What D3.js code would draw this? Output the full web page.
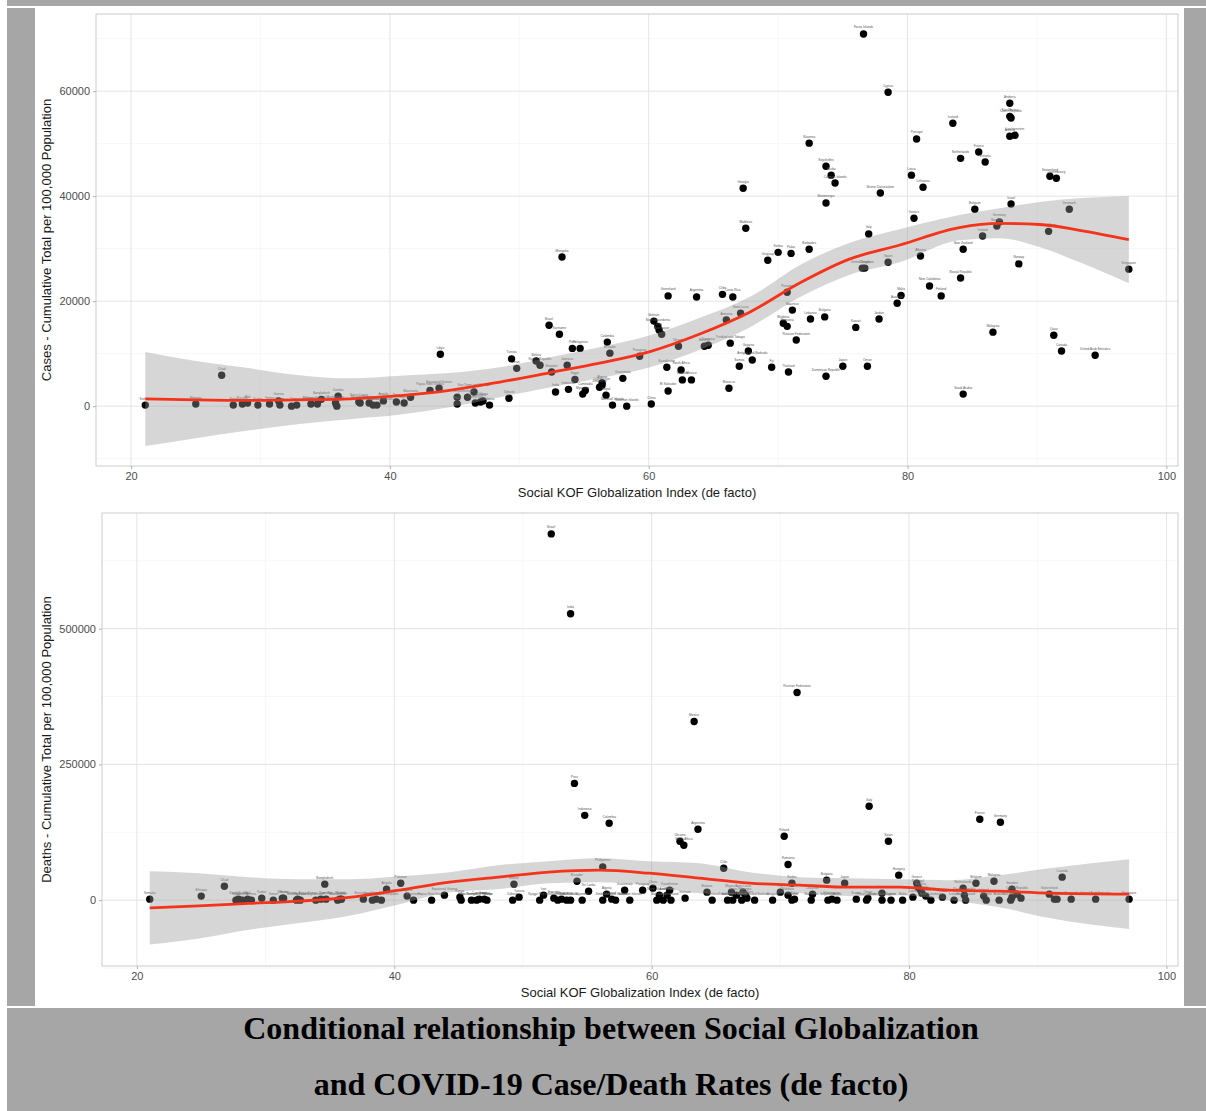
<!DOCTYPE html>
<html>
<head>
<meta charset="utf-8">
<script src="https://cdn.jsdelivr.net/npm/d3@7"></script>
<style>
  body { margin: 0; background: #fff; }
  svg { display: block; }
</style>
</head>
<body>
<svg width="1206" height="1111"></svg>
<script>
// [country, social KOF globalization index, cumulative cases per 100k]
var casePoints = [
  ["Somalia",21.1,200],["Ethiopia",25.0,400],["Chad",27.0,5900],["Niger",27.9,200],["Burundi",28.6,400],
  ["Mali",29.0,600],["Sudan",29.8,200],["Yemen",30.7,400],["Guinea",31.4,1000],["Benin",31.5,200],
  ["Burkina Faso",32.4,0],["Tanzania",32.8,200],["Afghanistan",33.9,400],["Congo, Dem. Rep.",34.4,400],
  ["Bangladesh",34.7,1300],["Madagascar",35.8,600],["Zambia",36.0,1900],["Malawi",35.9,0],
  ["Sierra Leone",37.6,800],["Mozambique",37.7,600],["Pakistan",38.4,600],["Uganda",38.7,200],
  ["Central African Republic",39.0,200],["Angola",39.5,1000],["Togo",40.5,800],["Nigeria",41.1,600],
  ["Mauritania",41.6,1700],["Papua New Guinea",43.1,3000],["Equatorial Guinea",43.8,3400],["Libya",43.9,9900],
  ["Kenya",45.2,1700],["Haiti",45.2,400],["Senegal",46.0,1700],["Sao Tome and Principe",46.5,2700],
  ["Cameroon",46.6,600],["Gambia",47.0,800],["Ghana",47.2,1000],["Liberia",47.7,200],["Djibouti",49.2,1500],
  ["Tunisia",49.4,9000],["Iran",49.8,7200],["Bolivia",51.3,8600],["Kyrgyz Republic",51.6,7800],
  ["Brazil",52.3,15400],["Eswatini",52.5,6500],["India",52.8,2700],["Suriname",53.1,13700],
  ["Mongolia",53.3,28400],["Jamaica",53.7,7800],["Indonesia",53.8,3200],["Peru",54.1,11000],
  ["Egypt",54.3,5100],["Philippines",54.7,11000],["Myanmar",54.9,2300],["Cambodia",55.1,3000],
  ["Zimbabwe",56.2,3600],["Uzbekistan",56.4,4000],["Algeria",56.4,4400],["Nepal",56.7,2100],
  ["Colombia",56.8,12200],["Ecuador",57.0,10100],["Marshall Islands",57.2,200],["Guatemala",58.0,5300],
  ["Solomon Islands",58.3,0],["Paraguay",59.3,9500],["China",60.2,400],["Bahrain",60.4,16200],
  ["North Macedonia",60.7,15200],["Iraq",60.8,14500],["Azerbaijan",61.0,13700],["Kazakhstan",61.4,7400],
  ["Greenland",61.5,21000],["El Salvador",61.5,2900],["Ukraine",62.3,11400],["South Africa",62.5,6900],
  ["Vietnam",62.6,5000],["Mexico",63.3,5000],["Argentina",63.7,20800],["Belarus",64.3,11400],
  ["Dominica",64.6,11600],["Chile",65.7,21300],["Armenia",66.0,16400],["Morocco",66.2,3400],
  ["Trinidad and Tobago",66.3,12000],["Costa Rica",66.5,20800],["Samoa",67.0,7600],["Saint Lucia",67.1,17700],
  ["Georgia",67.3,41500],["Maldives",67.5,33900],["Guyana",67.7,10500],["Antigua and Barbuda",68.0,8800],
  ["Uruguay",69.2,27800],["Fiji",69.5,7400],["Serbia",70.0,29300],["Moldova",70.4,15800],
  ["Romania",70.7,15200],["Panama",70.7,21700],["Thailand",70.8,6500],["Palau",71.0,29100],
  ["Mauritius",71.1,18300],["Russian Federation",71.4,12600],["Barbados",72.4,29900],["Slovenia",72.4,50100],
  ["Lebanon",72.5,16600],["Bulgaria",73.6,17000],["Seychelles",73.7,45700],["Montenegro",73.7,38700],
  ["Dominican Republic",73.7,5700],["Aruba",74.1,44000],["Cayman Islands",74.4,42500],["Japan",75.0,7600],
  ["Kuwait",76.0,15000],["United Kingdom",76.5,26300],["Croatia",76.7,26300],["Faroe Islands",76.6,70900],
  ["Oman",76.9,7600],["Italy",77.0,32800],["Jordan",77.8,16600],["Brunei Darussalam",77.9,40600],
  ["Spain",78.5,27400],["Cyprus",78.5,59800],["Australia",79.2,19600],["Malta",79.5,21100],
  ["Latvia",80.3,44000],["Greece",80.5,35800],["Portugal",80.7,50900],["Albania",81.0,28600],
  ["Lithuania",81.2,41700],["New Caledonia",81.7,22900],["Finland",82.6,21000],["Iceland",83.5,53900],
  ["Netherlands",84.1,47200],["Slovak Republic",84.1,24400],["New Zealand",84.3,29900],["Saudi Arabia",84.3,2300],
  ["Belgium",85.2,37500],["France",85.5,48400],["Ireland",85.8,32400],["Estonia",86.0,46500],
  ["Malaysia",86.6,14100],["Sweden",86.9,34300],["Germany",87.1,35100],["Andorra",87.9,57700],
  ["San Marino",87.9,55200],["Czech Republic",88.0,54900],["Austria",87.9,51400],["Liechtenstein",88.3,51600],
  ["Israel",88.0,38500],["Norway",88.6,27100],["Hong Kong",90.9,33300],["Switzerland",91.0,43800],
  ["Qatar",91.3,13500],["Luxembourg",91.5,43400],["Canada",91.9,10500],["Denmark",92.5,37500],
  ["United Arab Emirates",94.5,9700],["Singapore",97.1,26100]
];

// [country, social KOF globalization index, cumulative deaths]
var deathPoints = [
  ["Brazil",52.2,674500],["India",53.7,527500],["Russian Federation",71.3,382300],["Mexico",63.3,329000],
  ["Peru",54.0,215000],["Indonesia",54.8,156200],["Colombia",56.7,141500],["Argentina",63.6,130500],
  ["Ukraine",62.2,108400],["South Africa",62.5,101100],["Poland",70.3,117600],["Italy",76.9,172800],
  ["Spain",78.4,108400],["France",85.5,148900],["Germany",87.1,143400],["Romania",70.6,65600],
  ["Chile",65.6,58800],["Philippines",56.2,61200],["Hungary",79.2,46000],
  ["Somalia",21.0,1800],["Ethiopia",25.0,7400],["Chad",26.8,25700],["Niger",27.7,0],["South Sudan",27.9,1800],
  ["Burundi",28.2,0],["Mali",28.6,1800],["Eritrea",28.9,0],["Sudan",29.7,3700],["Yemen",30.6,0],
  ["Guinea",31.3,3700],["Benin",31.4,3700],["Burkina Faso",32.4,0],["Guinea-Bissau",32.5,1800],
  ["Tanzania",32.7,0],["Afghanistan",33.9,0],["Congo, Dem. Rep.",34.3,1800],["Bangladesh",34.6,29400],
  ["Lesotho",34.7,1800],["Madagascar",35.6,0],["Malawi",35.8,1800],["Zambia",35.9,1800],
  ["Sierra Leone",37.6,1800],["Mozambique",38.3,0],["Uganda",38.6,1800],["Central African Republic",39.0,0],
  ["Angola",39.4,20200],["Pakistan",40.5,31200],["Nigeria",41.0,7400],["Mauritania",41.5,0],
  ["Papua New Guinea",42.9,0],["Equatorial Guinea",43.9,9200],["Kenya",45.1,5500],["Haiti",45.2,0],
  ["Senegal",46.0,0],["Sao Tome and Principe",46.4,0],["Cameroon",46.6,1800],["Gambia",47.0,1800],
  ["Ghana",47.2,0],["Djibouti",49.2,0],["Bolivia",49.3,29400],["Tunisia",49.7,5500],
  ["Kyrgyz Republic",51.3,0],["Iran",51.6,9200],["Eswatini",52.4,3700],["Suriname",52.7,0],
  ["Jamaica",53.0,1800],["Lao PDR",53.4,0],["Cambodia",53.7,0],["Ecuador",54.2,34900],["Myanmar",54.6,0],
  ["Sri Lanka",55.1,16500],["Zimbabwe",56.2,0],["Algeria",56.5,11000],["Nepal",56.9,1800],
  ["Marshall Islands",57.2,0],["Guatemala",57.9,18400],["Solomon Islands",58.3,0],["Paraguay",59.3,18400],
  ["China",60.1,22100],["Bahrain",60.4,0],["North Macedonia",60.6,9200],["Iraq",60.9,0],
  ["Azerbaijan",61.2,9200],["Kazakhstan",61.4,18400],["Greenland",61.5,0],["Vietnam",62.6,3700],
  ["Belarus",64.3,14700],["Dominica",64.7,0],["Armenia",65.9,0],["Morocco",66.2,14700],
  ["Trinidad and Tobago",66.3,0],["Costa Rica",66.6,9200],["Samoa",67.0,0],["Saint Lucia",67.1,14700],
  ["Georgia",67.3,9200],["Maldives",67.4,3700],["Antigua and Barbuda",68.0,0],["Uruguay",69.4,0],
  ["Fiji",70.0,14700],["Moldova",70.6,9200],["Serbia",70.9,31200],["Panama",70.9,0],["Palau",71.1,1800],
  ["Barbados",72.4,0],["Lebanon",72.5,11000],["Bulgaria",73.6,36800],["Seychelles",73.7,0],
  ["Montenegro",74.0,1800],["Aruba",74.4,0],["Japan",75.0,31200],["Kuwait",75.9,1800],
  ["Faroe Islands",76.7,0],["Oman",76.8,3700],["Jordan",77.9,12900],["Brunei Darussalam",77.9,0],
  ["Cyprus",78.6,0],["Malta",79.5,0],["Latvia",80.3,5500],["Greece",80.6,31200],["Portugal",80.7,23900],
  ["Albania",80.9,18400],["Lithuania",81.0,12900],["Croatia",81.3,7400],["New Caledonia",81.7,0],
  ["Finland",82.6,5500],["Iceland",83.5,0],["Netherlands",84.2,22100],["Slovak Republic",84.3,9200],
  ["New Zealand",84.4,0],["Belgium",85.2,31200],["Ireland",85.8,7400],["Estonia",86.0,0],
  ["Malaysia",86.6,34900],["Andorra",87.0,0],["San Marino",87.9,0],["Sweden",88.0,20200],
  ["Austria",88.0,5500],["Czech Republic",88.4,11000],["Liechtenstein",88.7,3700],["Switzerland",90.9,11000],
  ["Qatar",91.3,1800],["Luxembourg",91.5,1800],["Canada",91.9,42300],["Denmark",92.6,1800],
  ["United Arab Emirates",94.5,1800],["Singapore",97.1,1800]
];

// loess fit and its confidence band
var caseFitX = [21.1,25,29.2,33,36.9,40.8,44.6,48.5,52.4,56.2,60.1,63.9,67.8,71.7,75.5,79.4,84,87.1,90.2,93.3,97.1];
var caseFit  = [1400,1200,1100,1200,1400,2000,3000,4600,6400,8200,10400,13700,17900,23500,28000,30700,34000,34800,34600,33500,31700];
var caseHi   = [10300,8600,7200,5900,5300,5800,6300,7400,9300,11200,13500,16800,20800,26900,31100,33700,36400,37700,38900,39600,40000];
var caseLo   = [-7600,-6100,-4600,-3400,-2500,-1600,-200,1700,3600,5300,7400,10700,15000,20800,25000,27400,31600,32000,30300,27400,23400];

var deathFitX = [21,24.8,28.7,32.6,36.5,40.4,44.3,48.1,52,55.9,59.8,63.7,67.6,71.5,75.4,79.3,83.1,87,90.9,97.1];
var deathFit  = [-14200,-10500,-6100,-1800,5000,18400,33100,42300,51500,55100,49600,40400,31200,27600,23900,23900,18400,16500,12900,11000];
var deathHi   = [53300,49600,42300,38600,38600,44100,51500,64300,71700,77200,71700,68000,51500,42300,40400,38600,36800,46000,58800,75400];
var deathLo   = [-81600,-70600,-54400,-42300,-28700,-7400,14700,20200,31200,33100,27600,12900,11000,12900,7400,9200,0,-12900,-33100,-53300];

var xTicks = [20,40,60,80,100];
var xMinor = [30,50,70,90];
var caseTicks = [0,20000,40000,60000];
var caseMinor = [-10000,10000,30000,50000,70000];
var deathTicks = [0,250000,500000];
var deathMinor = [-125000,125000,375000,625000];

var xTitle = "Social KOF Globalization Index (de facto)";
var caption = ["Conditional relationship between Social Globalization",
               "and COVID-19 Case/Death Rates (de facto)"];

var svg = d3.select("svg");
var grey = "#a6a6a6";

// grey frame around the figure
svg.append("rect").attr("x", 7).attr("y", 0).attr("width", 1199).attr("height", 6).attr("fill", grey);
svg.append("rect").attr("x", 7).attr("y", 8).attr("width", 28).attr("height", 998).attr("fill", grey);
svg.append("rect").attr("x", 1184).attr("y", 8).attr("width", 22).attr("height", 998).attr("fill", grey);
svg.append("rect").attr("x", 7).attr("y", 1008).attr("width", 1199).attr("height", 103).attr("fill", grey);

svg.selectAll("text.caption")
    .data(caption)
    .enter().append("text")
        .attr("class", "caption")
        .attr("x", 611)
        .attr("y", function(d, i) { return 1039 + i * 56; })
        .attr("text-anchor", "middle")
        .attr("font-family", "'Liberation Serif', 'Times New Roman', serif")
        .attr("font-weight", "bold")
        .attr("font-size", 32)
        .attr("fill", "#000")
        .text(function(d) { return d; });

function drawPanel(cfg) {
    var x = d3.scaleLinear().domain([17.29, 100.9]).range([cfg.left, 1178]);
    var y = d3.scaleLinear().domain(cfg.yDomain).range([cfg.bottom, cfg.top]);
    var g = svg.append("g");
    var clipId = "clip" + cfg.id;

    g.append("clipPath").attr("id", clipId)
        .append("rect")
        .attr("x", cfg.left).attr("y", cfg.top)
        .attr("width", 1178 - cfg.left).attr("height", cfg.bottom - cfg.top);

    // minor then major grid
    g.selectAll("line.xmin").data(xMinor).enter().append("line")
        .attr("x1", x).attr("x2", x).attr("y1", cfg.top).attr("y2", cfg.bottom)
        .attr("stroke", "#f1f1f1").attr("stroke-width", 0.6);
    g.selectAll("line.ymin").data(cfg.yMinor).enter().append("line")
        .attr("y1", y).attr("y2", y).attr("x1", cfg.left).attr("x2", 1178)
        .attr("stroke", "#f1f1f1").attr("stroke-width", 0.6);
    g.selectAll("line.xmaj").data(xTicks).enter().append("line")
        .attr("x1", x).attr("x2", x).attr("y1", cfg.top).attr("y2", cfg.bottom)
        .attr("stroke", "#e4e4e4").attr("stroke-width", 1);
    g.selectAll("line.ymaj").data(cfg.yTicks).enter().append("line")
        .attr("y1", y).attr("y2", y).attr("x1", cfg.left).attr("x2", 1178)
        .attr("stroke", "#e4e4e4").attr("stroke-width", 1);

    var plot = g.append("g").attr("clip-path", "url(#" + clipId + ")");

    plot.selectAll("circle")
        .data(cfg.points)
        .enter().append("circle")
            .attr("cx", function(d) { return x(d[1]); })
            .attr("cy", function(d) { return y(d[2]); })
            .attr("r", 3.7)
            .attr("fill", "#000");

    // tiny country labels, as in the original (they overlap there too)
    plot.selectAll("text.lab")
        .data(cfg.points)
        .enter().append("text")
            .attr("class", "lab")
            .attr("x", function(d) { return x(d[1]); })
            .attr("y", function(d) { return y(d[2]) - 5.5; })
            .attr("text-anchor", "middle")
            .attr("font-family", "'Liberation Sans', Arial, sans-serif")
            .attr("font-size", 3.2)
            .attr("fill", "#555")
            .text(function(d) { return d[0]; });

    var band = cfg.fitX.map(function(v, i) {
        return { x: v, fit: cfg.fit[i], lo: cfg.lo[i], hi: cfg.hi[i] };
    });

    plot.append("path")
        .datum(band)
        .attr("fill", "#999999")
        .attr("fill-opacity", 0.4)
        .attr("d", d3.area()
            .x(function(d) { return x(d.x); })
            .y0(function(d) { return y(d.lo); })
            .y1(function(d) { return y(d.hi); })
            .curve(d3.curveMonotoneX));

    plot.append("path")
        .datum(band)
        .attr("fill", "none")
        .attr("stroke", "#f5331b")
        .attr("stroke-width", 2.8)
        .attr("d", d3.line()
            .x(function(d) { return x(d.x); })
            .y(function(d) { return y(d.fit); })
            .curve(d3.curveMonotoneX));

    g.append("rect")
        .attr("x", cfg.left).attr("y", cfg.top)
        .attr("width", 1178 - cfg.left).attr("height", cfg.bottom - cfg.top)
        .attr("fill", "none").attr("stroke", "#cccccc").attr("stroke-width", 1);

    var xAxis = g.append("g")
        .attr("transform", "translate(0," + cfg.bottom + ")")
        .call(d3.axisBottom(x).tickValues(xTicks).tickSize(3).tickPadding(3).tickFormat(d3.format("d")));
    var yAxis = g.append("g")
        .attr("transform", "translate(" + cfg.left + ",0)")
        .call(d3.axisLeft(y).tickValues(cfg.yTicks).tickSize(3).tickPadding(3).tickFormat(d3.format("d")));

    [xAxis, yAxis].forEach(function(a) {
        a.select(".domain").remove();
        a.selectAll(".tick line").attr("stroke", "#b3b3b3");
        a.selectAll(".tick text")
            .attr("fill", "#4d4d4d")
            .attr("font-family", "'Liberation Sans', Arial, sans-serif")
            .attr("font-size", 11);
    });

    g.append("text")
        .attr("x", (cfg.left + 1178) / 2)
        .attr("y", cfg.bottom + 31)
        .attr("text-anchor", "middle")
        .attr("font-family", "'Liberation Sans', Arial, sans-serif")
        .attr("font-size", 13)
        .attr("fill", "#1a1a1a")
        .text(xTitle);

    g.append("text")
        .attr("transform", "translate(51," + (cfg.top + cfg.bottom) / 2 + ") rotate(-90)")
        .attr("text-anchor", "middle")
        .attr("font-family", "'Liberation Sans', Arial, sans-serif")
        .attr("font-size", 13)
        .attr("fill", "#1a1a1a")
        .text(cfg.yTitle);
}

drawPanel({
    id: "cases", left: 96, top: 14, bottom: 466,
    yDomain: [-11400, 74700], yTicks: caseTicks, yMinor: caseMinor,
    points: casePoints, fitX: caseFitX, fit: caseFit, lo: caseLo, hi: caseHi,
    yTitle: "Cases - Cumulative Total per 100,000 Population"
});

drawPanel({
    id: "deaths", left: 102, top: 513, bottom: 966,
    yDomain: [-121300, 713000], yTicks: deathTicks, yMinor: deathMinor,
    points: deathPoints, fitX: deathFitX, fit: deathFit, lo: deathLo, hi: deathHi,
    yTitle: "Deaths - Cumulative Total per 100,000 Population"
});
</script>
</body>
</html>
